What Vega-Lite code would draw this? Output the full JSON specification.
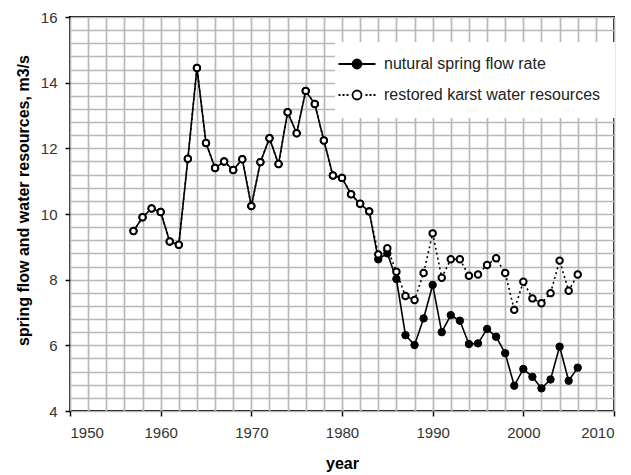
{
  "$schema": "https://vega.github.io/schema/vega-lite/v6.json",
  "width": 544,
  "height": 394,
  "autosize": {"type": "none"},
  "padding": {"left": 70, "top": 17, "right": 17, "bottom": 64},
  "background": "white",
  "config": {
    "view": {"stroke": "black", "strokeWidth": 2},
    "font": "Liberation Sans",
    "axis": {
      "domain": false,
      "gridColor": "#b8b8b8",
      "gridWidth": 1.7,
      "gridOpacity": 1,
      "tickColor": "black",
      "tickWidth": 1.5,
      "tickSize": 5,
      "labelOverlap": false,
      "labelFont": "Liberation Sans",
      "labelFontSize": 15,
      "labelColor": "#333",
      "titleFont": "Liberation Sans",
      "titleFontSize": 16,
      "titleFontWeight": "bold",
      "titleColor": "black"
    },
    "legend": {
      "labelLimit": 400
    }
  },
  "data": {
    "values": [
      {"year": 1957, "natural": 9.48, "restored": 9.48},
      {"year": 1958, "natural": 9.90, "restored": 9.90},
      {"year": 1959, "natural": 10.17, "restored": 10.17},
      {"year": 1960, "natural": 10.06, "restored": 10.06},
      {"year": 1961, "natural": 9.16, "restored": 9.16},
      {"year": 1962, "natural": 9.06, "restored": 9.06},
      {"year": 1963, "natural": 11.68, "restored": 11.68},
      {"year": 1964, "natural": 14.45, "restored": 14.45},
      {"year": 1965, "natural": 12.16, "restored": 12.16},
      {"year": 1966, "natural": 11.40, "restored": 11.40},
      {"year": 1967, "natural": 11.60, "restored": 11.60},
      {"year": 1968, "natural": 11.34, "restored": 11.34},
      {"year": 1969, "natural": 11.67, "restored": 11.67},
      {"year": 1970, "natural": 10.24, "restored": 10.24},
      {"year": 1971, "natural": 11.58, "restored": 11.58},
      {"year": 1972, "natural": 12.31, "restored": 12.31},
      {"year": 1973, "natural": 11.52, "restored": 11.52},
      {"year": 1974, "natural": 13.10, "restored": 13.10},
      {"year": 1975, "natural": 12.46, "restored": 12.46},
      {"year": 1976, "natural": 13.75, "restored": 13.75},
      {"year": 1977, "natural": 13.35, "restored": 13.35},
      {"year": 1978, "natural": 12.24, "restored": 12.24},
      {"year": 1979, "natural": 11.17, "restored": 11.17},
      {"year": 1980, "natural": 11.10, "restored": 11.10},
      {"year": 1981, "natural": 10.60, "restored": 10.60},
      {"year": 1982, "natural": 10.31, "restored": 10.31},
      {"year": 1983, "natural": 10.08, "restored": 10.08},
      {"year": 1984, "natural": 8.62, "restored": 8.77},
      {"year": 1985, "natural": 8.80, "restored": 8.96},
      {"year": 1986, "natural": 8.02, "restored": 8.24},
      {"year": 1987, "natural": 6.31, "restored": 7.50},
      {"year": 1988, "natural": 6.01, "restored": 7.38},
      {"year": 1989, "natural": 6.82, "restored": 8.20},
      {"year": 1990, "natural": 7.84, "restored": 9.41},
      {"year": 1991, "natural": 6.40, "restored": 8.06},
      {"year": 1992, "natural": 6.92, "restored": 8.62},
      {"year": 1993, "natural": 6.75, "restored": 8.62},
      {"year": 1994, "natural": 6.04, "restored": 8.12},
      {"year": 1995, "natural": 6.06, "restored": 8.16},
      {"year": 1996, "natural": 6.50, "restored": 8.45},
      {"year": 1997, "natural": 6.26, "restored": 8.65},
      {"year": 1998, "natural": 5.76, "restored": 8.20},
      {"year": 1999, "natural": 4.77, "restored": 7.08},
      {"year": 2000, "natural": 5.28, "restored": 7.94},
      {"year": 2001, "natural": 5.04, "restored": 7.43},
      {"year": 2002, "natural": 4.69, "restored": 7.28},
      {"year": 2003, "natural": 4.96, "restored": 7.59},
      {"year": 2004, "natural": 5.96, "restored": 8.58},
      {"year": 2005, "natural": 4.92, "restored": 7.66},
      {"year": 2006, "natural": 5.32, "restored": 8.16}
    ]
  },
  "encoding": {
    "x": {
      "field": "year",
      "type": "quantitative",
      "scale": {"domain": [1950, 2010], "nice": false, "zero": false},
      "axis": {
        "title": "year",
        "format": "d",
        "values": [1950,1952,1954,1956,1958,1960,1962,1964,1966,1968,1970,1972,1974,1976,1978,1980,1982,1984,1986,1988,1990,1992,1994,1996,1998,2000,2002,2004,2006,2008,2010],
        "labelExpr": "datum.value % 10 == 0 ? datum.label : ''",
        "labelOverlap": false,
        "labelPadding": 9,
        "titlePadding": 15,
        "tickOpacity": {"condition": {"test": "datum.value % 10 != 0", "value": 0}, "value": 1}
      }
    }
  },
  "layer": [
    {
      "mark": {"type": "line", "color": "black", "strokeWidth": 1.6},
      "encoding": {
        "y": {
          "field": "natural",
          "type": "quantitative",
          "scale": {"domain": [4, 16], "nice": false, "zero": false},
          "axis": {
            "title": "spring flow and water resources, m3/s",
            "values": [4,4.4,4.8,5.2,5.6,6,6.4,6.8,7.2,7.6,8,8.4,8.8,9.2,9.6,10,10.4,10.8,11.2,11.6,12,12.4,12.8,13.2,13.6,14,14.4,14.8,15.2,15.6,16],
            "labelExpr": "datum.value % 2 == 0 ? format(datum.value, 'd') : ''",
            "labelOverlap": false,
            "labelPadding": 8,
            "titleX": -39,
            "titleY": 183,
            "tickOpacity": {"condition": {"test": "datum.value % 2 != 0", "value": 0}, "value": 1}
          }
        }
      }
    },
    {
      "mark": {"type": "line", "color": "black", "strokeWidth": 1.6, "strokeDash": [2, 3]},
      "encoding": {
        "y": {
          "field": "restored",
          "type": "quantitative",
          "axis": {
            "title": "spring flow and water resources, m3/s",
            "values": [4,4.4,4.8,5.2,5.6,6,6.4,6.8,7.2,7.6,8,8.4,8.8,9.2,9.6,10,10.4,10.8,11.2,11.6,12,12.4,12.8,13.2,13.6,14,14.4,14.8,15.2,15.6,16],
            "labelExpr": "datum.value % 2 == 0 ? format(datum.value, 'd') : ''",
            "labelOverlap": false,
            "labelPadding": 8,
            "titleX": -39,
            "titleY": 183,
            "tickOpacity": {"condition": {"test": "datum.value % 2 != 0", "value": 0}, "value": 1}
          }
        }
      }
    },
    {
      "mark": {"type": "point", "shape": "circle", "filled": true, "fill": "black", "stroke": "black", "strokeWidth": 1, "size": 55, "opacity": 1},
      "encoding": {
        "y": {
          "field": "natural",
          "type": "quantitative",
          "axis": {
            "title": "spring flow and water resources, m3/s",
            "values": [4,4.4,4.8,5.2,5.6,6,6.4,6.8,7.2,7.6,8,8.4,8.8,9.2,9.6,10,10.4,10.8,11.2,11.6,12,12.4,12.8,13.2,13.6,14,14.4,14.8,15.2,15.6,16],
            "labelExpr": "datum.value % 2 == 0 ? format(datum.value, 'd') : ''",
            "labelOverlap": false,
            "labelPadding": 8,
            "titleX": -39,
            "titleY": 183,
            "tickOpacity": {"condition": {"test": "datum.value % 2 != 0", "value": 0}, "value": 1}
          }
        }
      }
    },
    {
      "mark": {"type": "point", "shape": "circle", "filled": true, "fill": "white", "stroke": "black", "strokeWidth": 2, "size": 42, "opacity": 1},
      "encoding": {
        "y": {
          "field": "restored",
          "type": "quantitative",
          "axis": {
            "title": "spring flow and water resources, m3/s",
            "values": [4,4.4,4.8,5.2,5.6,6,6.4,6.8,7.2,7.6,8,8.4,8.8,9.2,9.6,10,10.4,10.8,11.2,11.6,12,12.4,12.8,13.2,13.6,14,14.4,14.8,15.2,15.6,16],
            "labelExpr": "datum.value % 2 == 0 ? format(datum.value, 'd') : ''",
            "labelOverlap": false,
            "labelPadding": 8,
            "titleX": -39,
            "titleY": 183,
            "tickOpacity": {"condition": {"test": "datum.value % 2 != 0", "value": 0}, "value": 1}
          }
        }
      }
    },
    {
      "transform": [{"filter": "false"}],
      "mark": {"type": "point", "filled": false, "color": "black", "strokeWidth": 1.8, "opacity": 1},
      "encoding": {
        "y": {
          "field": "restored",
          "type": "quantitative",
          "axis": {
            "title": "spring flow and water resources, m3/s",
            "values": [4,4.4,4.8,5.2,5.6,6,6.4,6.8,7.2,7.6,8,8.4,8.8,9.2,9.6,10,10.4,10.8,11.2,11.6,12,12.4,12.8,13.2,13.6,14,14.4,14.8,15.2,15.6,16],
            "labelExpr": "datum.value % 2 == 0 ? format(datum.value, 'd') : ''",
            "labelOverlap": false,
            "labelPadding": 8,
            "titleX": -39,
            "titleY": 183,
            "tickOpacity": {"condition": {"test": "datum.value % 2 != 0", "value": 0}, "value": 1}
          }
        },
        "shape": {
          "field": "series",
          "type": "nominal",
          "scale": {
            "domain": ["nutural spring flow rate", "restored karst water resources"],
            "range": [
              "M-3.08,0L3.08,0M0.75,0A0.75,0.75,0,1,1,-0.75,0A0.75,0.75,0,1,1,0.75,0M0.48,0A0.48,0.48,0,1,1,-0.48,0A0.48,0.48,0,1,1,0.48,0M0.22,0A0.22,0.22,0,1,1,-0.22,0A0.22,0.22,0,1,1,0.22,0",
              "M-3.08,0L-2.75,0M-2.42,0L-2.08,0M-1.75,0L-1.42,0M1.42,0L1.75,0M2.08,0L2.42,0M2.75,0L3.08,0M0.75,0A0.75,0.75,0,1,1,-0.75,0A0.75,0.75,0,1,1,0.75,0"
            ]
          },
          "legend": {
            "title": null,
            "orient": "none",
            "legendX": 265,
            "legendY": 25,
            "fillColor": "white",
            "padding": 14,
            "symbolSize": 144,
            "symbolStrokeColor": "black",
            "symbolStrokeWidth": 1.8,
            "labelOffset": 19,
            "labelFont": "Liberation Sans",
            "labelFontSize": 16,
            "labelColor": "#222",
            "rowPadding": 13
          }
        }
      }
    }
  ]
}
